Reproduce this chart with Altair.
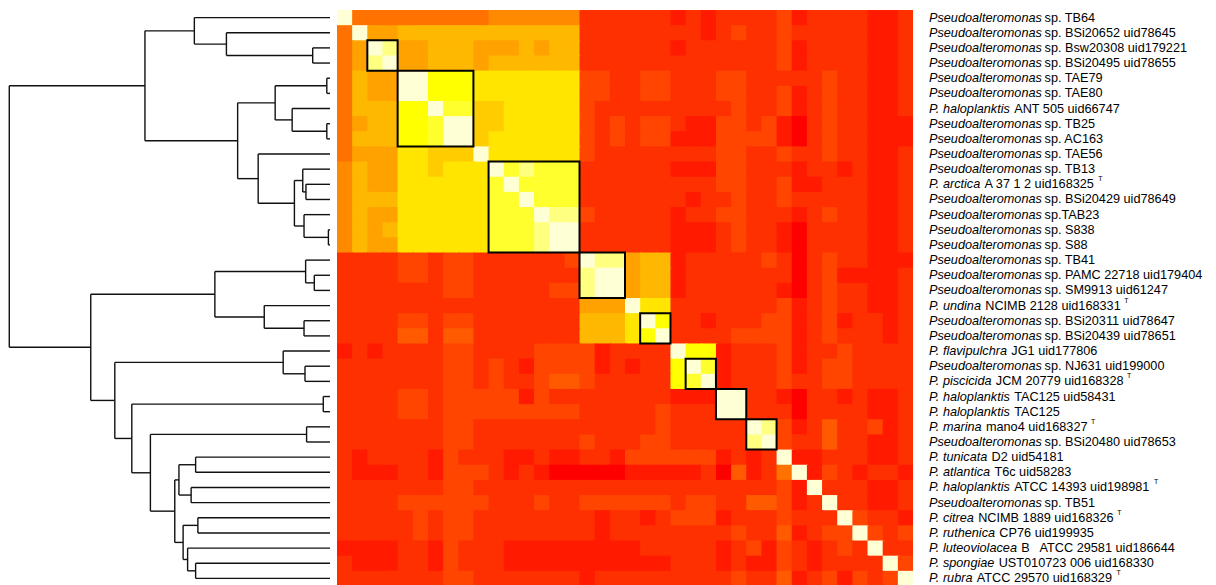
import altair as alt
import pandas as pd

N = 38
FONT = "Liberation Sans"
FS = 12.7

# --- row labels: italic part, regular part, type strain flag -----------------
ITALIC = [
    "Pseudoalteromonas", "Pseudoalteromonas", "Pseudoalteromonas", "Pseudoalteromonas",
    "Pseudoalteromonas", "Pseudoalteromonas", "P. haloplanktis", "Pseudoalteromonas",
    "Pseudoalteromonas", "Pseudoalteromonas", "Pseudoalteromonas", "P. arctica",
    "Pseudoalteromonas", "Pseudoalteromonas", "Pseudoalteromonas", "Pseudoalteromonas",
    "Pseudoalteromonas", "Pseudoalteromonas", "Pseudoalteromonas", "P. undina",
    "Pseudoalteromonas", "Pseudoalteromonas", "P. flavipulchra", "Pseudoalteromonas",
    "P. piscicida", "P. haloplanktis", "P. haloplanktis", "P. marina",
    "Pseudoalteromonas", "P. tunicata", "P. atlantica", "P. haloplanktis",
    "Pseudoalteromonas", "P. citrea", "P. ruthenica", "P. luteoviolacea",
    "P. spongiae", "P. rubra",
]
REST = [
    "sp. TB64", "sp. BSi20652 uid78645", "sp. Bsw20308 uid179221", "sp. BSi20495 uid78655",
    "sp. TAE79", "sp. TAE80", "ANT 505 uid66747", "sp. TB25",
    "sp. AC163", "sp. TAE56", "sp. TB13", "A 37 1 2 uid168325",
    "sp. BSi20429 uid78649", "sp.TAB23", "sp. S838", "sp. S88",
    "sp. TB41", "sp. PAMC 22718 uid179404", "sp. SM9913 uid61247", "NCIMB 2128 uid168331",
    "sp. BSi20311 uid78647", "sp. BSi20439 uid78651", "JG1 uid177806", "sp. NJ631 uid199000",
    "JCM 20779 uid168328", "TAC125 uid58431", "TAC125", "mano4 uid168327",
    "sp. BSi20480 uid78653", "D2 uid54181", "T6c uid58283", "ATCC 14393 uid198981",
    "sp. TB51", "NCIMB 1889 uid168326", "CP76 uid199935", "B\u00a0\u00a0 ATCC 29581 uid186644",
    "UST010723 006 uid168330", "ATCC 29570 uid168329",
]
TYPE_STRAIN = [0, 0, 0, 0, 0, 0, 0, 0, 0, 0, 0, 1, 0, 0, 0, 0, 0, 0, 0, 1,
               0, 0, 0, 0, 1, 0, 0, 1, 0, 0, 0, 1, 0, 1, 0, 0, 0, 1]

# --- heatmap levels (hex digit per cell, 0 = red ... e = pale cream) --------
HEAT = [
    "e555555555 6666662222 2212122223 12222112",
    "5e77888888 8888882222 2222123223 22222112",
    "57ed778887 7787882222 2212222223 12222112",
    "57de778887 8888882222 2222222223 12222112",
    "5877eebbba aaaaaa3322 3322233222 22322112",
    "5877eebbba aaaaaa3322 3322233223 12322112",
    "5888bbecc9 9aaaaa3222 2222223223 12322112",
    "5788bbcee9 9aaaaa3232 3321133231 02322111",
    "5888bbcee9 aaaaaa3232 3311133331 02322111",
    "5777aa999e aaaaaa3222 2222233223 22322112",
    "6877aa9aaa ecdccc2222 2211133222 12212112",
    "6877aaaaaa cecccc2222 2222233223 11222112",
    "6888aaaaaa cceccc2222 2221223223 22222112",
    "6877aaaaaa cccedd3222 2212233222 12322112",
    "6878aaaaaa cccdee2222 2211123221 02222112",
    "6877aaaaaa cccdee2222 2211123221 02222112",
    "2222332332 222223edd7 8812222232 02322111",
    "2222332332 222222dee7 8812222222 02311112",
    "2222222332 222233dee7 8812222221 02322112",
    "2222222222 222222777e aa22222223 12322112",
    "2222332332 222222888a eb22122233 12312212",
    "2222442442 222222888a be22223333 12322212",
    "1212222332 2223333122 22ebb12223 12232222",
    "2222222332 3213333121 22bec12223 12332222",
    "2222222332 3223443222 22bce12223 22332222",
    "2222332333 3313222222 22111ee221 02212112",
    "2222332333 3333332222 23222ee222 02222112",
    "2222222332 2222222222 2322222ed3 12422312",
    "2222222332 2222223222 3322222de3 22422112",
    "2122221322 2112112213 333331212e 11222112",
    "2111221333 2121000001 1111204125 e1321221",
    "2222222332 2222222222 2222222223 1e222112",
    "2222333333 2223223333 3323322443 12e22112",
    "2222232332 2222222122 1233312223 222e3221",
    "2222232332 2222222122 2222223224 1233e323",
    "1111221322 2111111111 2222212313 21232e22",
    "2111221322 2111111111 1122212113 212222e3",
    "2222222332 2222221222 2222223224 1231323e",
]
PALETTE = ["#FF0000", "#FF1A00", "#FF3000", "#FF4500", "#FF5A00", "#FF7200",
           "#FF8A00", "#FFA200", "#FFB800", "#FFCC00", "#FFE500", "#FFFF00",
           "#FFFF2E", "#FFFF80", "#FFFFD6"]

# clusters outlined with black boxes (first row, last row)
BOXES = [(3, 4), (5, 9), (11, 16), (17, 19), (21, 22), (24, 25), (26, 27), (28, 29)]

# --- dendrogram merges (negative = leaf row, positive = earlier merge), height
MERGES = [
    (-3, -4, 0.054), (-2, 1, 0.323), (-1, 2, 0.423),
    (-5, -6, 0.010), (-8, -9, 0.010), (-7, 5, 0.118), (4, 6, 0.171),
    (-12, -13, 0.075), (-11, 8, 0.085), (-15, -16, 0.005), (-14, 10, 0.081),
    (9, 11, 0.111), (-10, 12, 0.224), (7, 13, 0.288), (3, 14, 0.577),
    (-18, -19, 0.049), (-17, 16, 0.076), (-21, -22, 0.081), (-20, 18, 0.205),
    (17, 19, 0.359), (-24, -25, 0.078), (-23, 21, 0.146), (-26, -27, 0.021),
    (-28, -29, 0.073), (-30, -31, 0.419), (-32, -33, 0.433), (25, 26, 0.471),
    (-34, -35, 0.412), (-37, -38, 0.419), (-36, 29, 0.444), (28, 30, 0.458),
    (27, 31, 0.484), (24, 32, 0.560), (23, 33, 0.618), (22, 34, 0.671),
    (20, 35, 0.746), (15, 36, 1.000),
]

# ---------------------------------------------------------------------------
OV = 0.1  # overlap so neighbouring cells leave no seams
cells = []
for i, row in enumerate(HEAT):
    vals = [int(ch, 16) for ch in row.replace(" ", "")]
    assert len(vals) == N, (i, len(vals))
    for j, v in enumerate(vals):
        cells.append({"r0": i + 0.5, "r1": min(i + 1.5 + OV, N + 0.5),
                      "c0": j + 0.5, "c1": min(j + 1.5 + OV, N + 0.5), "lvl": v})
cells = pd.DataFrame(cells)

merged = {}
segs = []
def info(k):
    return (float(-k), 0.0) if k < 0 else merged[k]
for idx, (a, b, h) in enumerate(MERGES, start=1):
    ya, ha = info(a)
    yb, hb = info(b)
    segs.append({"x": ha, "x2": h, "y": ya, "y2": ya})
    segs.append({"x": hb, "x2": h, "y": yb, "y2": yb})
    segs.append({"x": h, "x2": h, "y": ya, "y2": yb})
    merged[idx] = ((ya + yb) / 2, h)
segs = pd.DataFrame(segs)

W = {' ': 278, '.': 278, '\u00a0': 278}
for ch in "0123456789":
    W[ch] = 556
W.update(dict(A=667, B=667, C=722, D=722, E=667, F=611, G=778, H=722, I=278, J=500,
              K=667, L=556, M=833, N=722, O=778, P=667, Q=778, R=722, S=667, T=611,
              U=722, V=667, W=944, X=667, Y=667, Z=611))
W.update(dict(a=556, b=556, c=500, d=556, e=556, f=278, g=556, h=556, i=222, j=222,
              k=500, l=222, m=833, n=556, o=556, p=556, q=556, r=333, s=500, t=278,
              u=556, v=500, w=722, x=500, y=500, z=500))

def tw(s):
    return sum(W.get(ch, 556) for ch in s) * FS / 1000.0

X0 = 16
labs = []
for i in range(N):
    xr = X0 + tw(ITALIC[i]) + 2.6
    xt = xr + tw(REST[i]) + 3.5
    labs.append({"y": i + 1, "it": ITALIC[i], "rest": REST[i], "x0": X0, "xr": xr,
                 "xt": xt, "t": "T" if TYPE_STRAIN[i] else ""})
labs = pd.DataFrame(labs)

yscale = alt.Scale(domain=[0.5, N + 0.5], reverse=True, nice=False, zero=False)
cscale = alt.Scale(domain=[0.5, N + 0.5], nice=False, zero=False)
colscale = alt.Scale(domain=list(range(15)), range=PALETTE)

HM = 576

dend = alt.Chart(segs).mark_rule(color="#111111", strokeWidth=1.4).encode(
    x=alt.X("x:Q", scale=alt.Scale(domain=[-0.0218, 1.004], reverse=True, nice=False, zero=False), axis=None),
    x2="x2:Q",
    y=alt.Y("y:Q", scale=yscale, axis=None),
    y2="y2:Q",
).properties(width=329, height=HM)

heat = alt.Chart(cells).mark_rect(strokeWidth=0, opacity=1).encode(
    x=alt.X("c0:Q", scale=cscale, axis=None),
    x2="c1:Q",
    y=alt.Y("r0:Q", scale=yscale, axis=None),
    y2="r1:Q",
    color=alt.Color("lvl:O", scale=colscale, legend=None),
)

boxes = alt.Chart(pd.DataFrame([{"a": s - 0.5, "b": e + 0.5} for s, e in BOXES])).mark_rect(
    fillOpacity=0, stroke="black", strokeWidth=2
).encode(
    x=alt.X("a:Q", scale=cscale, axis=None), x2="b:Q",
    y=alt.Y("a:Q", scale=yscale, axis=None), y2="b:Q",
)

heat_panel = alt.layer(heat, boxes).properties(width=HM, height=HM)

LW = 290
pxs = alt.Scale(domain=[0, LW], nice=False, zero=False)
base = alt.Chart(labs)
t_it = base.mark_text(align="left", baseline="middle", font=FONT, fontSize=FS,
                      fontStyle="italic", color="black").encode(
    x=alt.X("x0:Q", scale=pxs, axis=None), y=alt.Y("y:Q", scale=yscale, axis=None), text="it:N")
t_rest = base.mark_text(align="left", baseline="middle", font=FONT, fontSize=FS,
                        color="black").encode(
    x=alt.X("xr:Q", scale=pxs, axis=None), y=alt.Y("y:Q", scale=yscale, axis=None), text="rest:N")
t_sup = base.mark_text(align="left", baseline="middle", font=FONT, fontSize=7,
                       dy=-5, color="black").encode(
    x=alt.X("xt:Q", scale=pxs, axis=None), y=alt.Y("y:Q", scale=yscale, axis=None), text="t:N")
labels = alt.layer(t_it, t_rest, t_sup).properties(width=LW, height=HM)

chart = alt.hconcat(dend, heat_panel, labels, spacing=0).properties(
    padding=0
).configure_view(stroke=None)

chart.save("out.html", embed_options={"renderer": "svg", "actions": False})
